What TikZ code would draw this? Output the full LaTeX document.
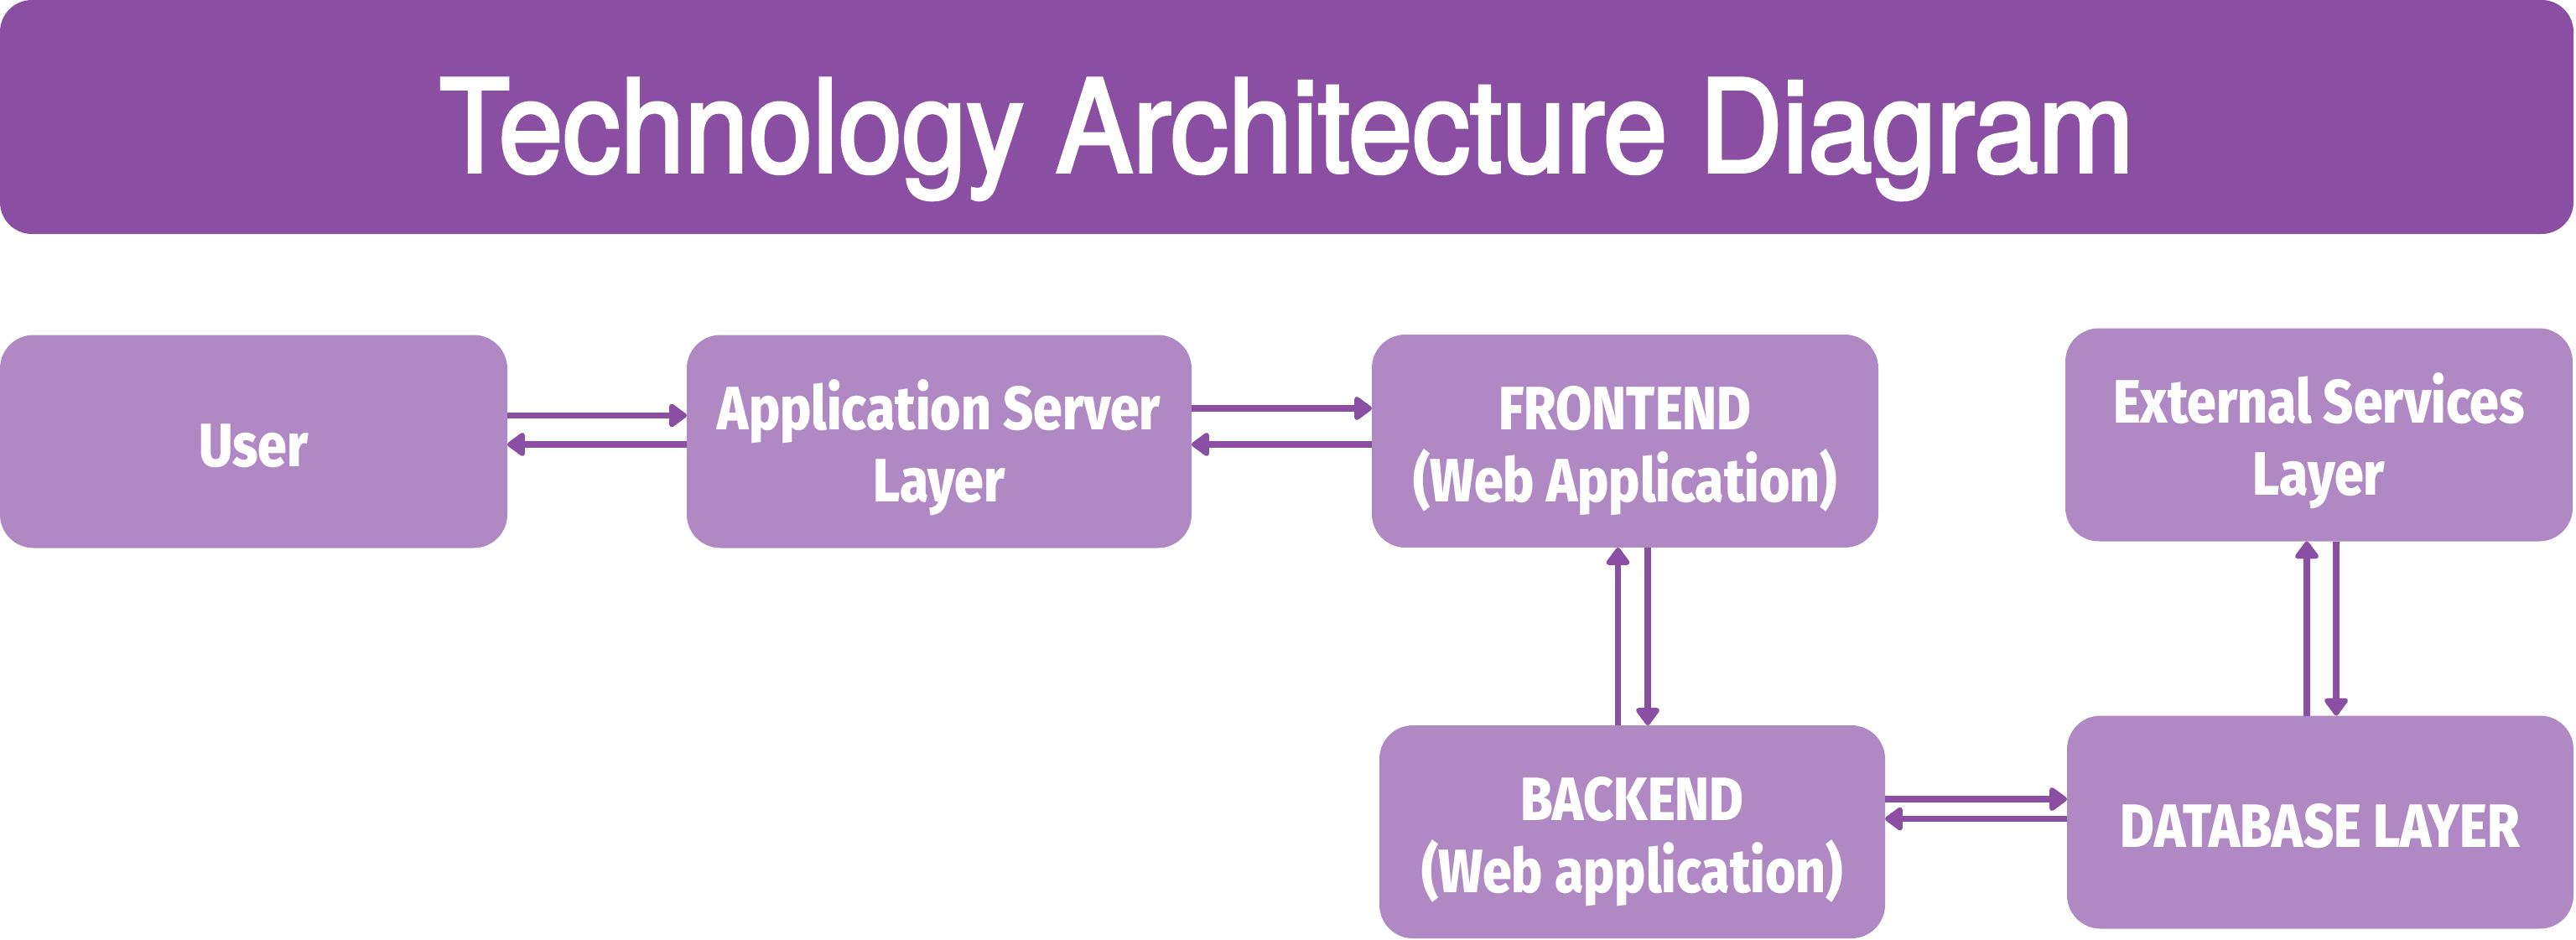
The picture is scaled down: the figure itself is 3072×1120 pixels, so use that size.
\documentclass[tikz,border=0pt]{standalone}
\usepackage{fontspec}
\setmainfont{Fira Sans}
\newfontfamily\titlefont[FakeStretch=0.897,FakeBold=2.5]{TeX Gyre Heros}
\newfontfamily\boxfont[FakeStretch=0.855]{Fira Sans ExtraBold}
\usetikzlibrary{arrows.meta,calc}
\definecolor{darkpurple}{RGB}{138,79,163}
\definecolor{lightpurple}{RGB}{176,136,196}
\begin{document}
\begin{tikzpicture}[x=0.5pt,y=-0.5pt,
  every node/.style={inner sep=0pt,outer sep=0pt},
  titlebar/.style={fill=darkpurple,rounded corners=19pt,text=white,
    font=\titlefont\fontsize{76.6}{90}\selectfont,
    minimum width=1534.5pt,minimum height=139.5pt,text height=70pt,text depth=4.5pt},
  layerbox/.style={fill=lightpurple,rounded corners=20pt,text=white,align=center,
    font=\boxfont\fontsize{36.5}{43}\selectfont,minimum height=127pt},
  oneline/.style={text height=29.5pt,text depth=0pt},
  twoline/.style={text height=72pt,text depth=0pt},
  flow/.style={draw=darkpurple,line width=3.75pt,
    -{Triangle[length=11.5pt,width=16pt,round]}}]
\useasboundingbox (0,0) rectangle (3072,1120);
\node[titlebar] (title) at (1534.5,139.5) {Technology Architecture Diagram};
\node[layerbox,oneline,minimum width=302.5pt] (user) at (302.5,526.5) {User};
\node[layerbox,twoline,minimum width=301pt] (app) at (1120,526.5) {Application Server\\Layer};
\node[layerbox,twoline,minimum width=302pt] (front) at (1938,526) {FRONTEND\\(Web Application)};
\node[layerbox,twoline,minimum width=302.5pt] (ext) at (2765.5,518.5) {External Services\\Layer};
\node[layerbox,twoline,minimum width=301.5pt] (back) at (1946.5,992) {BACKEND\\(Web application)};
\node[layerbox,oneline,minimum width=302pt] (db) at (2767,980.5) {DATABASE LAYER};
% user <-> app
\draw[flow] ([yshift=15.5pt]user.east) -- ([yshift=15.5pt]user.east -| app.west);
\draw[flow] ([yshift=-1.75pt]app.west) -- ([yshift=-1.75pt]app.west -| user.east);
% app <-> frontend
\draw[flow] ([yshift=19.75pt]app.east) -- ([yshift=19.75pt]app.east -| front.west);
\draw[flow] ([yshift=-2pt]front.west) -- ([yshift=-2pt]front.west -| app.east);
% frontend <-> backend
\draw[flow] ([xshift=-8.5pt]back.north) -- ([xshift=-8.5pt]back.north |- front.south);
\draw[flow] ([xshift=9.25pt]back.north |- front.south) -- ([xshift=9.25pt]back.north);
% backend <-> database
\draw[flow] ([yshift=19.5pt]back.east) -- ([yshift=19.5pt]back.east -| db.west);
\draw[flow] ([yshift=2pt]db.west) -- ([yshift=2pt]db.west -| back.east);
% database <-> external
\draw[flow] ([xshift=-8pt]db.north) -- ([xshift=-8pt]db.north |- ext.south);
\draw[flow] ([xshift=9.5pt]db.north |- ext.south) -- ([xshift=9.5pt]db.north);
\end{tikzpicture}
\end{document}
